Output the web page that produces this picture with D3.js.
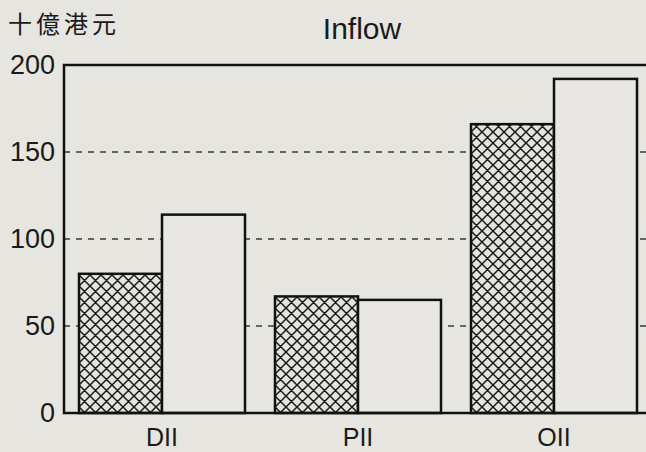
<!DOCTYPE html>
<html>
<head>
<meta charset="utf-8">
<script src="https://cdn.jsdelivr.net/npm/d3@7"></script>
<style>
  body { margin: 0; background: #e7e5e0; }
  svg { display: block; }
  text { font-family: "Liberation Sans", Arial, sans-serif; fill: #1a1a1a; }
</style>
</head>
<body>
<div id="chart"></div>
<script>
var categories = ['DII', 'PII', 'OII'];
var seriesKeys = ['hatched', 'plain'];
var hatchedValues = [80, 67, 166];
var plainValues = [114, 65, 192];
var yTicks = [0, 50, 100, 150, 200];
var gridTicks = [50, 100, 150];

var width = 646, height = 452;
var margin = { top: 65, left: 64, bottom: 39 };

var svg = d3.select('#chart').append('svg')
  .attr('width', width)
  .attr('height', height);

// crosshatch fill
var defs = svg.append('defs');
var pat = defs.append('pattern')
  .attr('id', 'xhatch')
  .attr('patternUnits', 'userSpaceOnUse')
  .attr('width', 11)
  .attr('height', 11);
pat.append('rect').attr('width', 11).attr('height', 11).attr('fill', '#e4e3df');
pat.append('path')
  .attr('d', 'M0,0L11,11M11,0L0,11M-1,10L1,12M10,-1L12,1M-1,1L1,-1M10,12L12,10')
  .attr('stroke', '#1a1a1a')
  .attr('stroke-width', 1.5);

var x = d3.scaleBand()
  .domain(categories)
  .range([margin.left, margin.left + 3 * 196])
  .paddingInner(30 / 196)
  .paddingOuter(15 / 196);

var xSub = d3.scaleBand()
  .domain(seriesKeys)
  .range([0, x.bandwidth()]);

var y = d3.scaleLinear()
  .domain([0, 200])
  .range([height - margin.bottom, margin.top]);

// dashed grid behind the bars
svg.append('g')
  .selectAll('line')
  .data(gridTicks)
  .enter()
  .append('line')
  .attr('x1', margin.left)
  .attr('x2', width)
  .attr('y1', function(d) { return y(d); })
  .attr('y2', function(d) { return y(d); })
  .attr('stroke', '#3a3a3a')
  .attr('stroke-width', 1.5)
  .attr('stroke-dasharray', '6,6');

var groups = svg.append('g')
  .selectAll('g')
  .data(categories)
  .enter()
  .append('g')
  .attr('transform', function(d) { return 'translate(' + x(d) + ',0)'; });

groups.selectAll('rect')
  .data(function(d, i) {
    return [
      { key: 'hatched', value: hatchedValues[i] },
      { key: 'plain', value: plainValues[i] }
    ];
  })
  .enter()
  .append('rect')
  .attr('x', function(d) { return xSub(d.key); })
  .attr('width', xSub.bandwidth())
  .attr('y', function(d) { return y(d.value); })
  .attr('height', function(d) { return y(0) - y(d.value); })
  .attr('fill', function(d) { return d.key === 'hatched' ? 'url(#xhatch)' : '#e8e7e3'; })
  .attr('stroke', '#111')
  .attr('stroke-width', 2.5);

// frame
svg.append('rect')
  .attr('x', margin.left)
  .attr('y', y(200))
  .attr('width', 3 * 196)
  .attr('height', y(0) - y(200))
  .attr('fill', 'none')
  .attr('stroke', '#111')
  .attr('stroke-width', 2.5);

// y axis labels
var yAxis = d3.axisLeft(y)
  .tickValues(yTicks)
  .tickSize(0)
  .tickPadding(9);
var yg = svg.append('g')
  .attr('transform', 'translate(' + margin.left + ',0)')
  .call(yAxis);
yg.select('.domain').remove();
yg.selectAll('text')
  .style('font-size', '27px')
  .attr('fill', '#1a1a1a');

// x axis labels
var xAxis = d3.axisBottom(x).tickSize(0).tickPadding(15);
var xg = svg.append('g')
  .attr('transform', 'translate(0,' + y(0) + ')')
  .call(xAxis);
xg.select('.domain').remove();
xg.selectAll('text')
  .style('font-size', '25px')
  .attr('fill', '#1a1a1a');

svg.append('text')
  .attr('x', 362)
  .attr('y', 39)
  .attr('text-anchor', 'middle')
  .style('font-size', '30px')
  .text('Inflow');

svg.append('text')
  .attr('x', 8)
  .attr('y', 33)
  .style('font-family', '"Noto Sans CJK TC", "Noto Sans CJK SC", sans-serif')
  .style('font-size', '24px')
  .style('letter-spacing', '4px')
  .text('十億港元');
</script>
</body>
</html>
